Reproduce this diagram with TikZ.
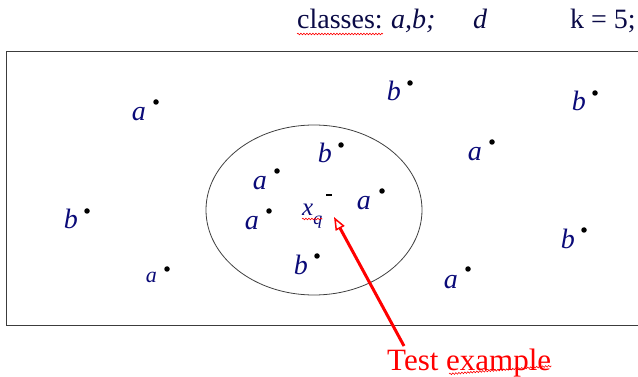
\documentclass[tikz,border=0pt]{standalone}
\usepackage{fontspec}
\setmainfont{Liberation Serif}
\usetikzlibrary{positioning, arrows.meta, shapes.geometric, decorations.pathmorphing}
\definecolor{labelblue}{RGB}{10,10,120}
\definecolor{headblue}{RGB}{10,10,70}
\definecolor{framegray}{RGB}{60,60,60}

\begin{document}
\begin{tikzpicture}[
    x=1pt, y=-1pt,
    dot/.style={circle, fill=black, inner sep=0, minimum size=5.5pt},
    qmark/.style={rectangle, fill=black, inner sep=0, minimum width=6pt, minimum height=2pt},
    lbl/.style={text=labelblue, font=\fontsize{28}{28}\selectfont\itshape, inner sep=0, anchor=base east},
    sml/.style={lbl, font=\fontsize{22}{22}\selectfont\itshape},
    hdr/.style={text=headblue, font=\fontsize{28}{28}\selectfont, inner sep=0, anchor=base west},
    squig/.style={red, line width=0.6pt, decorate, decoration={snake, amplitude=0.8pt, segment length=3pt}},
    arr/.style={red, line width=3pt, -{Triangle[open, length=13pt, width=10pt, line width=1.5pt]}}
]
    \useasboundingbox (0,0) rectangle (638,377);

    % header line
    \node[hdr] (cls) at (297,29) {classes:};
    \node[hdr, base right=8pt of cls] (ab) {\itshape a,b;};
    \node[hdr] (dd) at (473,29) {\itshape d};
    \node[hdr] (kk) at (570,29) {k = 5;};
    \draw[squig] ([yshift=-5pt]cls.base west) -- ([yshift=-5pt]cls.base east);

    % feature space and neighbourhood
    \node[draw=framegray, line width=1.2pt, anchor=north west, minimum width=660pt, minimum height=274pt] (space) at (6,51) {};
    \node[draw=black!75, line width=0.8pt, ellipse, minimum width=216pt, minimum height=170pt] (nbhd) at (314,210) {};

    % training examples
    \node[dot] (p1) at (156,102) {};  \node[lbl] (l1) at ([shift={(-10,19)}]p1) {a};
    \node[dot] (p2) at (87,211) {};   \node[lbl] (l2) at ([shift={(-9,18)}]p2) {b};
    \node[dot] (p3) at (167,269) {};  \node[sml] (l3) at ([shift={(-10,14)}]p3) {a};
    \node[dot] (p4) at (277,171) {};  \node[lbl] (l4) at ([shift={(-10,19)}]p4) {a};
    \node[dot] (p5) at (269,211) {};  \node[lbl] (l5) at ([shift={(-10,19)}]p5) {a};
    \node[dot] (p6) at (317,256) {};  \node[lbl] (l6) at ([shift={(-9,18)}]p6) {b};
    \node[dot] (p7) at (341,145) {};  \node[lbl] (l7) at ([shift={(-9,18)}]p7) {b};
    \node[dot] (p8) at (382,191) {};  \node[lbl] (l8) at ([shift={(-11,19)}]p8) {a};
    \node[dot] (p9) at (410,83) {};   \node[lbl] (l9) at ([shift={(-9,18)}]p9) {b};
    \node[dot] (p10) at (595,93) {};  \node[lbl] (l10) at ([shift={(-9,18)}]p10) {b};
    \node[dot] (p11) at (492,142) {}; \node[lbl] (l11) at ([shift={(-10,19)}]p11) {a};
    \node[dot] (p12) at (584,230) {}; \node[lbl] (l12) at ([shift={(-9,18)}]p12) {b};
    \node[dot] (p13) at (468,269) {}; \node[lbl] (l13) at ([shift={(-10,19)}]p13) {a};

    % query point
    \node[qmark] (q) at (329,195) {};
    \node[text=labelblue, inner sep=0, anchor=base west, font=\fontsize{25}{25}\selectfont\itshape] (lq) at (302,215) {x\raisebox{-0.4em}{\fontsize{18}{18}\selectfont q}};
    \draw[squig] ([yshift=-4pt]lq.base west) -- ([yshift=-4pt]lq.base east);

    % pointer
    \node[text=red, inner sep=0, anchor=base west, font=\fontsize{31}{31}\selectfont] (test) at (387,370) {Test example};
    \coordinate (tail) at (404,346);
    \coordinate (tip) at (334,217);
    \draw[arr] (tail) -- (tip);
    \draw[squig] ([shift={(62,4)}]test.base west) -- ([yshift=4pt]test.base east);
\end{tikzpicture}
\end{document}
